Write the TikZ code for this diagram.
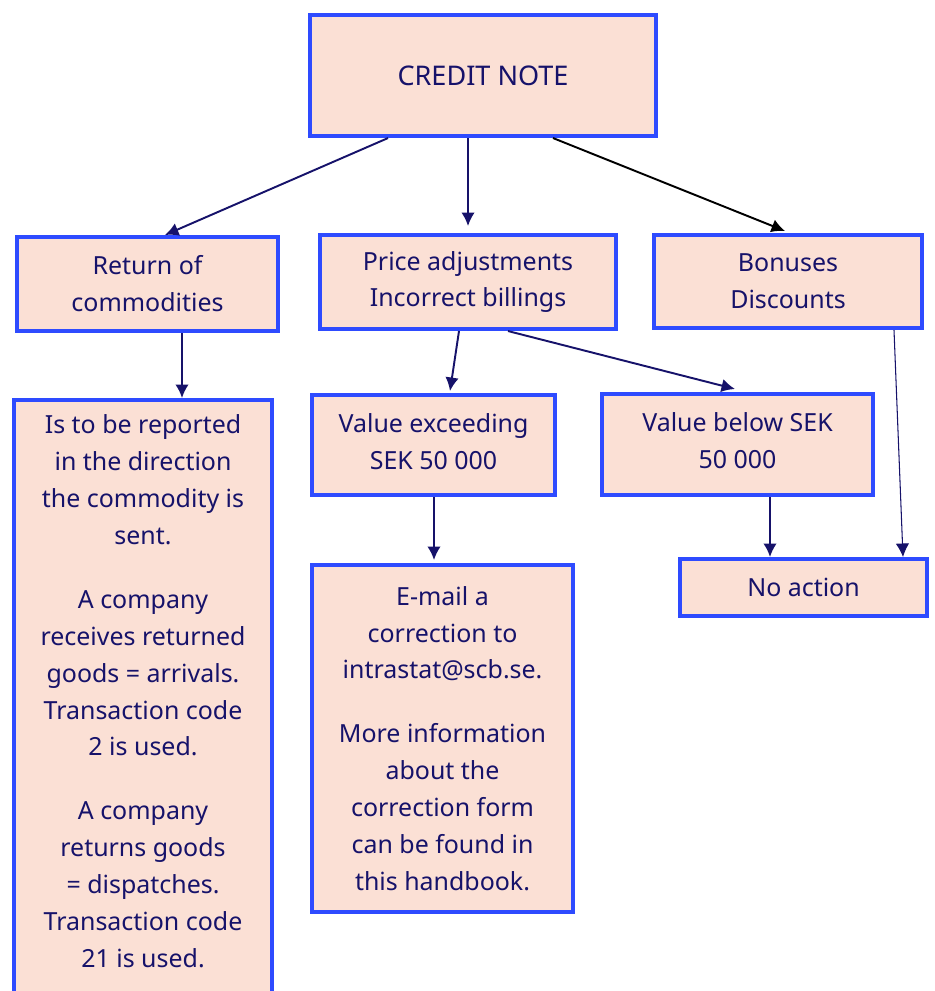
\documentclass[tikz,border=0pt]{standalone}
\usepackage{fontspec}
\setmainfont{Noto Sans}
\usetikzlibrary{positioning, arrows.meta, calc}

\definecolor{boxfill}{HTML}{FBE0D5}
\definecolor{boxline}{HTML}{2E4BFF}
\definecolor{navy}{HTML}{16126A}

\begin{document}
\begin{tikzpicture}[
    x=0.02cm, y=-0.02cm,
    every node/.style={align=center, font=\fontsize{14.2}{21}\selectfont, text=navy},
    box/.style={draw=boxline, fill=boxfill, line width=2.3pt, anchor=north west, inner sep=0pt},
    arr/.style={draw=navy, line width=1.1pt, -{Latex[length=2.7mm,width=2.7mm]}},
    >=Latex
]
    \def\pxu{0.02cm}
    \def\gap{0.54cm}
    \useasboundingbox (0,0) rectangle (935,991);

    % top level
    \node[box, minimum width=346*\pxu, minimum height=121*\pxu, font=\fontsize{15.4}{21}\selectfont] (cn) at (308,13) {CREDIT NOTE};

    % second row
    \node[box, minimum width=261*\pxu, minimum height=94*\pxu] (ret) at (15,235) {Return of\\commodities};
    \node[box, minimum width=296*\pxu, minimum height=94*\pxu] (price) at (318,233) {Price adjustments\\Incorrect billings};
    \node[box, minimum width=268*\pxu, minimum height=93*\pxu] (bonus) at (652,233) {Bonuses\\Discounts};

    % third row
    \node[box, minimum width=258*\pxu, minimum height=640*\pxu] (rep) at (12,398) {Is to be reported\\in the direction\\the commodity is\\sent.\\[\gap]A company\\receives returned\\goods = arrivals.\\Transaction code\\2 is used.\\[\gap]A company\\returns goods\\= dispatches.\\Transaction code\\21 is used.\\[0.42cm]\mbox{}};
    \node[box, minimum width=243*\pxu, minimum height=100*\pxu] (high) at (310,393) {Value exceeding\\SEK 50 000\\[-0.58cm]\mbox{}};
    \node[box, minimum width=271*\pxu, minimum height=101*\pxu] (low) at (600,392) {Value below SEK\\50 000\\[-0.58cm]\mbox{}};

    % bottom row
    \node[box, minimum width=261*\pxu, minimum height=347*\pxu] (mail) at (310,563) {E-mail a\\correction to\\intrastat@scb.se.\\[\gap]More information\\about the\\correction form\\can be found in\\this handbook.};
    \node[box, minimum width=247*\pxu, minimum height=57*\pxu] (none) at (678,557) {No action};

    % connectors
    \draw[arr] ($(cn.south)+(-95,0)$) -- ($(ret.north west)+(150,0)$);
    \draw[arr] ($(cn.south)+(-15,0)$) -- ($(price.north)+(0,-7)$);
    \draw[arr, draw=black] ($(cn.south)+(70,0)$) -- ($(bonus.north)+(-3,-2)$);
    \draw[arr] ($(ret.south west)+(167,0)$) -- ($(rep.north west)+(170,0)$);
    \draw[arr] ($(price.south west)+(141,0)$) -- ($(high.north west)+(140,-2)$);
    \draw[arr] ($(price.south west)+(190,0)$) -- ($(low.north west)+(135,-3)$);
    \draw[arr] ($(high.south west)+(124,0)$) -- ($(mail.north west)+(124,-3)$);
    \draw[arr] ($(low.south west)+(170,0)$) -- ($(none.north west)+(92,0)$);
    \draw[arr, line width=0.6pt] ($(bonus.south west)+(242,0)$) -- ($(none.north west)+(225,0)$);
\end{tikzpicture}
\end{document}
